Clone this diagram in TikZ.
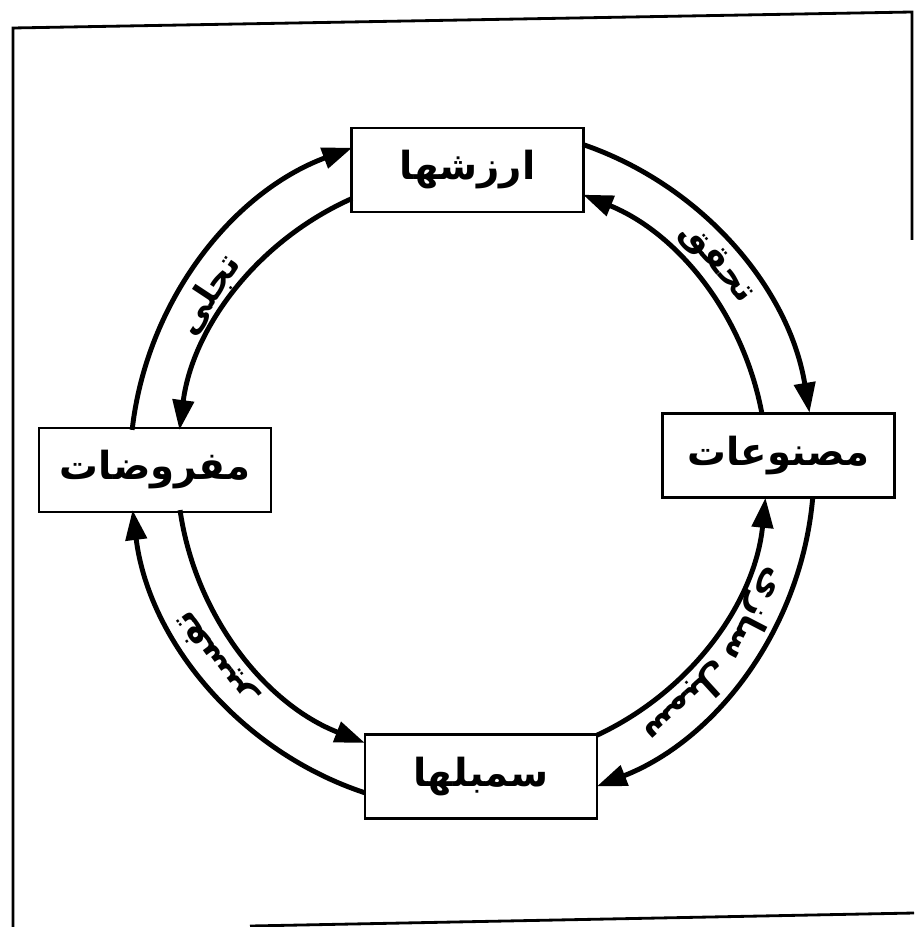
\documentclass[tikz,border=0pt]{standalone}
\usepackage{fontspec}
\newfontfamily\arabicfont[Script=Arabic]{DejaVu Sans}
\TeXXeTstate=1
\usetikzlibrary{shapes,arrows,arrows.meta,positioning}

\begin{document}
\begin{tikzpicture}
    % Define styles
    \tikzstyle{stage} = [rectangle, minimum width=4.64cm, minimum height=1.68cm, text centered, draw=black, line width=1.2pt, fill=white, font=\arabicfont\bfseries\fontsize{22}{26}\selectfont]
    \tikzstyle{flow} = [line width=2.8pt, -{Triangle[length=6mm, width=4.2mm]}, looseness=0.92]
    \tikzstyle{tag} = [inner sep=0pt, font=\arabicfont\bfseries\fontsize{20}{24}\selectfont]

    \useasboundingbox (0,0) rectangle (18.28,-18.54);

    % Frame
    \draw[line width=1.6pt] (0.26,-18.54) -- (0.26,-0.56) -- (18.24,-0.24) -- (18.24,-4.8);
    \draw[line width=1.6pt] (5.0,-18.52) -- (18.28,-18.26);

    % Nodes
    \coordinate (ctr) at (9.44,-9.36);
    \node[stage] (values) at (9.35,-3.40) {\beginR ارزشها\endR};
    \node[stage] (artifacts) at (15.57,-9.11) {\beginR مصنوعات\endR};
    \node[stage] (symbols) at (9.62,-15.53) {\beginR سمبلها\endR};
    \node[stage] (assumptions) at (3.10,-9.40) {\beginR مفروضات\endR};

    % Ring ends, outer ring
    \coordinate (v-or) at ([shift={(71.1:6.84)}]ctr);
    \coordinate (v-ol) at ([shift={(110.5:6.84)}]ctr);
    \coordinate (a-ot) at ([shift={(9.3:6.84)}]ctr);
    \coordinate (a-ob) at ([shift={(-5.0:6.84)}]ctr);
    \coordinate (s-or) at ([shift={(-68.6:6.84)}]ctr);
    \coordinate (s-ol) at ([shift={(251.8:6.84)}]ctr);
    \coordinate (m-ob) at ([shift={(187.05:6.84)}]ctr);
    \coordinate (m-ot) at ([shift={(173.6:6.84)}]ctr);
    % Ring ends, inner ring
    \coordinate (v-ir) at ([shift={(67.9:5.9)}]ctr);
    \coordinate (v-il) at ([shift={(114.0:5.9)}]ctr);
    \coordinate (a-it) at ([shift={(10.7:5.9)}]ctr);
    \coordinate (a-ib) at ([shift={(-5.8:5.9)}]ctr);
    \coordinate (s-ir) at ([shift={(-64.9:5.9)}]ctr);
    \coordinate (s-il) at ([shift={(248.7:5.9)}]ctr);
    \coordinate (m-ib) at ([shift={(188.2:5.9)}]ctr);
    \coordinate (m-it) at ([shift={(172.6:5.9)}]ctr);

    % Connections
    \draw[flow] (v-or) to[out=-18.9, in=99.3] (a-ot);
    \draw[flow] (a-ob) to[out=-95, in=21.4] (s-or);
    \draw[flow] (s-ol) to[out=161.8, in=277.05] (m-ob);
    \draw[flow] (m-ot) to[out=83.6, in=200.5] (v-ol);
    \draw[flow] (a-it) to[out=100.7, in=-22.1] (v-ir);
    \draw[flow] (s-ir) to[out=25.1, in=-95.8] (a-ib);
    \draw[flow] (m-ib) to[out=278.2, in=158.7] (s-il);
    \draw[flow] (v-il) to[out=204, in=82.6] (m-it);

    % Labels on the ring
    \node[tag, rotate=-50.1] (realize) at ([shift={(39.9:6.37)}]ctr) {\beginR تحقق\endR};
    \node[tag, rotate=56.6] (manifest) at ([shift={(146.6:6.3)}]ctr) {\beginR تجلی\endR};
    \node[tag, rotate=126.5] (interpret) at ([shift={(216.5:6.37)}]ctr) {\beginR تفسیر\endR};
    % two words, each laid along the ring
    \node[tag, rotate=-137.6] (symbolize1) at ([shift={(-47.6:6.37)}]ctr) {\beginR سمبل\endR};
    \node[tag, rotate=-117.4] (symbolize2) at ([shift={(-27.4:6.37)}]ctr) {\beginR سازی\endR};
\end{tikzpicture}
\end{document}
